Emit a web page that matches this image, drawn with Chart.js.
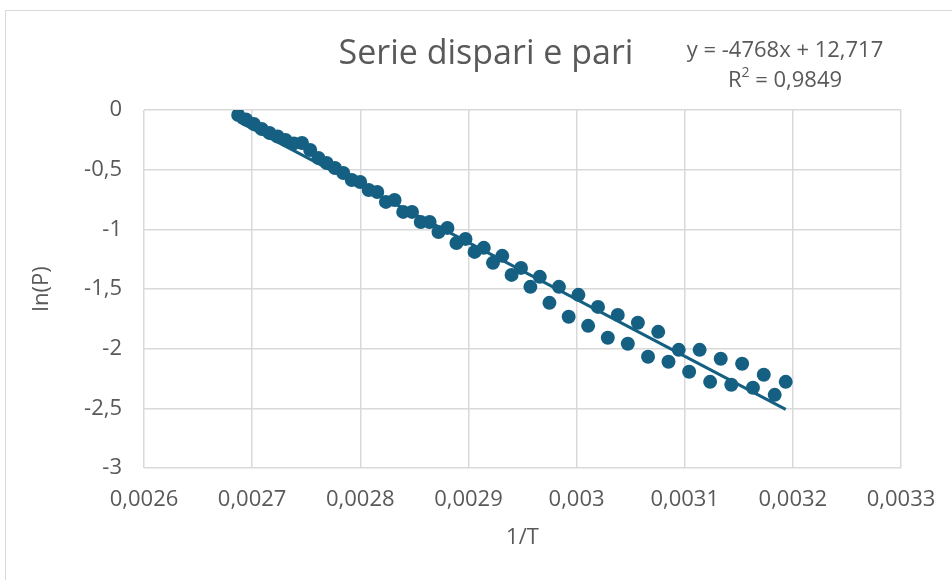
<!DOCTYPE html>
<html>
<head>
<meta charset="utf-8">
<script src="https://cdn.jsdelivr.net/npm/chart.js@4.4.1/dist/chart.umd.min.js"></script>
<style>
  html, body { margin: 0; padding: 0; background: #ffffff; }
  #wrap { position: relative; width: 952px; height: 580px; }
  canvas { display: block; }
</style>
</head>
<body>
<div id="wrap"><canvas id="c" width="952" height="580"></canvas></div>
<script>
// ---- data ----
// "dispari" (odd) series: 1/T values and ln(P)
const xDispari = [0.0026871, 0.0027016, 0.0027161, 0.0027309, 0.0027461, 0.0027613, 0.0027766, 0.0027921, 0.0028078, 0.0028237, 0.0028397, 0.0028559, 0.0028723, 0.0028889, 0.0029057, 0.0029227, 0.0029399, 0.0029573, 0.0029749, 0.0029927, 0.0030107, 0.0030289, 0.0030474, 0.0030661, 0.0030850, 0.0031041, 0.0031235, 0.0031431, 0.0031631, 0.0031832];
const yDispari = [-0.042, -0.117, -0.193, -0.251, -0.276, -0.402, -0.486, -0.586, -0.670, -0.770, -0.854, -0.938, -1.022, -1.114, -1.189, -1.281, -1.382, -1.482, -1.616, -1.733, -1.809, -1.909, -1.959, -2.068, -2.110, -2.194, -2.278, -2.303, -2.328, -2.387];
// "pari" (even) series
const xPari = [0.0026943, 0.0027089, 0.0027236, 0.0027386, 0.0027537, 0.0027689, 0.0027843, 0.0027999, 0.0028157, 0.0028317, 0.0028478, 0.0028641, 0.0028806, 0.0028973, 0.0029142, 0.0029313, 0.0029486, 0.0029660, 0.0029837, 0.0030017, 0.0030198, 0.0030381, 0.0030567, 0.0030755, 0.0030945, 0.0031138, 0.0031333, 0.0031531, 0.0031731, 0.0031934];
const yPari = [-0.080, -0.159, -0.222, -0.280, -0.335, -0.444, -0.528, -0.603, -0.687, -0.754, -0.854, -0.938, -0.988, -1.080, -1.155, -1.222, -1.323, -1.398, -1.482, -1.549, -1.650, -1.717, -1.783, -1.859, -2.010, -2.010, -2.085, -2.127, -2.219, -2.278];
// linear trendline shown on the chart: y = -4768x + 12,717 ; R² = 0,9849
const trendSlope = -4768;
const trendIntercept = 12.717;
const trendText = "y = -4768x + 12,717";
const r2Text = "0,9849";
// axis ticks
const xTickLabels = ["0,0026", "0,0027", "0,0028", "0,0029", "0,003", "0,0031", "0,0032", "0,0033"];
const yTickLabels = ["0", "-0,5", "-1", "-1,5", "-2", "-2,5", "-3"];
const chartTitle = "Serie dispari e pari";
const xTitle = "1/T";
const yTitle = "ln(P)";

// ---- build ----
const color = '#156082';
const toPts = (xs, ys) => xs.map((x, i) => ({ x: x, y: ys[i] }));
const allX = xDispari.concat(xPari);
const xMin = Math.min(...allX), xMax = Math.max(...allX);
const trendPts = [xMin, xMax].map(x => ({ x: x, y: trendSlope * x + trendIntercept }));

const FONT = '"Open Sans", Roboto, sans-serif';
const TXT = '#595959';

const textPlugin = {
  id: 'texts',
  afterDraw(chart) {
    const ctx = chart.ctx;
    const area = chart.chartArea;
    ctx.save();
    ctx.fillStyle = TXT;
    ctx.textBaseline = 'middle';
    ctx.textAlign = 'center';
    // chart title
    ctx.font = '34px ' + FONT;
    ctx.fillText(chartTitle, 486, 54);
    // axis titles
    ctx.font = '22px ' + FONT;
    ctx.fillText(xTitle, (area.left + area.right) / 2, 538);
    ctx.save();
    ctx.translate(42, (area.top + area.bottom) / 2);
    ctx.rotate(-Math.PI / 2);
    ctx.fillText(yTitle, 0, 0);
    ctx.restore();
    // trendline label
    ctx.font = '22px ' + FONT;
    ctx.fillText(trendText, 785, 51);
    const rest = ' = ' + r2Text;
    const wR = ctx.measureText('R').width;
    ctx.font = '14px ' + FONT;
    const w2 = ctx.measureText('2').width;
    ctx.font = '22px ' + FONT;
    const wRest = ctx.measureText(rest).width;
    const total = wR + w2 + wRest;
    let x0 = 785 - total / 2;
    ctx.textAlign = 'left';
    ctx.fillText('R', x0, 81);
    ctx.font = '14px ' + FONT;
    ctx.fillText('2', x0 + wR, 73);
    ctx.font = '22px ' + FONT;
    ctx.fillText(rest, x0 + wR + w2, 81);
    // outer chart border
    ctx.strokeStyle = '#d9d9d9';
    ctx.lineWidth = 1;
    ctx.strokeRect(5.5, 10.5, 1000, 1000);
    ctx.restore();
  }
};

new Chart(document.getElementById('c'), {
  type: 'scatter',
  data: {
    datasets: [
      { label: 'dispari', data: toPts(xDispari, yDispari), backgroundColor: color, borderColor: color, pointRadius: 7, pointHoverRadius: 7, borderWidth: 0, order: 2 },
      { label: 'pari', data: toPts(xPari, yPari), backgroundColor: color, borderColor: color, pointRadius: 7, pointHoverRadius: 7, borderWidth: 0, order: 2 },
      { label: 'trend', type: 'line', data: trendPts, borderColor: color, borderWidth: 3, pointRadius: 0, fill: false, order: 1 }
    ]
  },
  options: {
    responsive: false,
    animation: false,
    events: [],
    layout: { padding: { left: 0, right: 51, top: 110, bottom: 0 } },
    plugins: { legend: { display: false }, tooltip: { enabled: false }, title: { display: false } },
    scales: {
      x: {
        type: 'linear', min: 0.0026, max: 0.0033,
        afterBuildTicks(scale) {
          scale.ticks = xTickLabels.map((t, i) => ({ value: 0.0026 + i * 0.0001 }));
        },
        ticks: {
          autoSkip: false, maxRotation: 0, padding: 19,
          color: TXT, font: { family: FONT, size: 22 },
          callback: (v, i) => xTickLabels[i]
        },
        grid: { color: '#d9d9d9', lineWidth: 1.5, drawTicks: false },
        border: { display: false },
        afterFit(scale) { scale.height = 112; scale.paddingLeft = 0; scale.paddingRight = 0; }
      },
      y: {
        type: 'linear', min: -3, max: 0,
        afterBuildTicks(scale) {
          scale.ticks = yTickLabels.map((t, i) => ({ value: -i * 0.5 }));
        },
        ticks: {
          autoSkip: false, padding: 22,
          color: TXT, font: { family: FONT, size: 22 },
          callback: function (v) { const i = Math.round(-v / 0.5); return yTickLabels[i]; }
        },
        grid: { color: '#d9d9d9', lineWidth: 1.5, drawTicks: false },
        border: { display: false },
        afterFit(scale) { scale.width = 144; scale.paddingTop = 0; scale.paddingBottom = 0; }
      }
    }
  },
  plugins: [textPlugin]
});
</script>
</body>
</html>
